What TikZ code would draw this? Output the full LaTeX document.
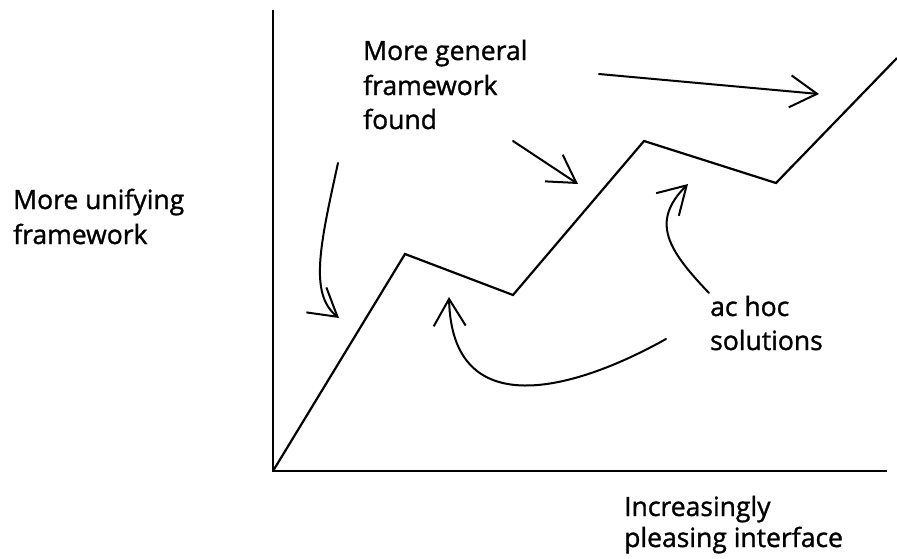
\documentclass[tikz,border=0pt]{standalone}
\usepackage{fontspec}
\setmainfont{Open Sans}
\newfontfamily\lblfont{Open Sans}[FakeBold=1.2]
\usetikzlibrary{arrows.meta}
\begin{document}
\begin{tikzpicture}[x=1pt,y=-1pt,
  lbl/.style={anchor=base west,inner sep=0pt,font=\lblfont\fontsize{26.5}{32}\selectfont},
  ax/.style={line width=2pt},
  zig/.style={line width=2.2pt,line join=miter},
  arr/.style={line width=2pt,line cap=round,-{Straight Barb[length=27pt,width=32pt]}}]
\useasboundingbox (0,0) rectangle (897,558);
% axes
\coordinate (top) at (273,10);
\coordinate (O) at (273,471);
\coordinate (xend) at (887,471);
\draw[ax] (top) -- (O) -- (xend);
% zigzag
\coordinate (p1) at (405,254);
\coordinate (p2) at (513,295);
\coordinate (p3) at (644,141);
\coordinate (p4) at (776,183);
\coordinate (p5) at (897,58);
\draw[zig] (O) -- (p1) -- (p2) -- (p3) -- (p4) -- (p5);
% labels
\node[lbl] (ul1) at (13,209) {More unifying};
\node[lbl] (ul2) at (13,244) {framework};
\node[lbl] (gl1) at (363,60) {More general};
\node[lbl] (gl2) at (363,95) {framework};
\node[lbl] (gl3) at (363,129) {found};
\node[lbl] (al1) at (710,316) {ac hoc};
\node[lbl] (al2) at (710,350) {solutions};
\node[lbl] (il1) at (624,516) {Increasingly};
\node[lbl] (il2) at (624,547) {pleasing interface};
% arrows
\coordinate (a1s) at (338,163);
\coordinate (a1e) at (339,318);
\draw[arr] (a1s) .. controls (320,245) and (309,294) .. (a1e);
\coordinate (a2s) at (599,74);
\coordinate (a2e) at (819,94);
\draw[arr] (a2s) -- (a2e);
\coordinate (a3s) at (513,141);
\coordinate (a3e) at (578,184);
\draw[arr] (a3s) -- (a3e);
\coordinate (a4s) at (666,339);
\coordinate (a4e) at (449,297);
\draw[arr] (a4s) .. controls (575,390) and (452,425) .. (a4e);
\coordinate (a5s) at (709,293);
\coordinate (a5e) at (688,184);
\draw[arr] (a5s) .. controls (668,250) and (650,222) .. (a5e);
\end{tikzpicture}
\end{document}
